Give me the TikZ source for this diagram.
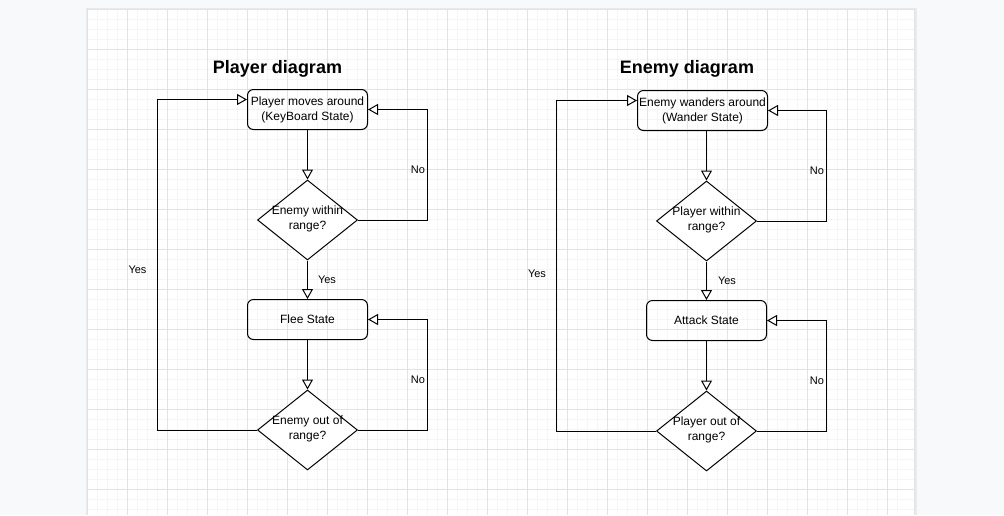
\documentclass[tikz,border=0pt]{standalone}
\usepackage{fontspec}
\setmainfont{Liberation Sans}
\usetikzlibrary{arrows.meta,shapes.geometric}
\definecolor{outbg}{HTML}{F8F9FA}
\definecolor{minorgrid}{HTML}{F5F5F5}
\definecolor{majorgrid}{HTML}{E3E3E3}
\definecolor{pageshadow}{HTML}{E9EAEB}
\tikzset{
  stbox/.style={draw, rounded corners=6pt, minimum width=120pt, minimum height=40pt, inner sep=0pt, align=center, font=\fontsize{12}{15}\selectfont, line width=1pt},
  dec/.style={diamond, draw, minimum width=100pt, minimum height=80pt, inner sep=0pt, line width=1pt, fill=white},
  dtext/.style={align=center, font=\fontsize{12}{15}\selectfont, yshift=1pt},
  arr/.style={-{Triangle[open,length=10pt,width=11pt,fill=white]}, line width=1pt},
  lbl/.style={font=\fontsize{11}{13}\selectfont, inner sep=1pt},
  ttl/.style={font=\bfseries\fontsize{18}{22}\selectfont}
}
\begin{document}
\begin{tikzpicture}[x=1pt,y=-1pt]
\useasboundingbox (0,0) rectangle (1004,515);
\fill[outbg] (0,0) rectangle (1004,515);
\fill[pageshadow] (86,8) rectangle (916.5,515);
\fill[white] (87,9) rectangle (915,515);
\foreach \x in {97.5,107.5,...,905} \draw[minorgrid, line width=1pt] (\x,9) -- (\x,515);
\foreach \y in {19.5,29.5,...,515} \draw[minorgrid, line width=1pt] (87,\y) -- (915,\y);
\foreach \x in {127.5,167.5,...,900} \draw[majorgrid, line width=1pt] (\x,9) -- (\x,515);
\foreach \y in {49.5,89.5,...,515} \draw[majorgrid, line width=1pt] (87,\y) -- (915,\y);
\draw[majorgrid, line width=1pt] (87.5,515) -- (87.5,9.5) -- (914.5,9.5) -- (914.5,515);

% ---------- Player diagram ----------
\node[ttl] (pt) at (277.5,69) {Player diagram};
\node[stbox] (p1) at (307.5,109.5) {Player moves around\\(KeyBoard State)};
\node[dec, label={[dtext]center:Enemy within\\range?}] (p2) at (307.5,220) {};
\node[stbox] (p3) at (307.5,319.5) {Flee State};
\node[dec, label={[dtext]center:Enemy out of\\range?}] (p4) at (307.5,430) {};
\coordinate (pnr) at (427.5,0);
\coordinate (pyl) at (157.5,0);
\coordinate (p1in) at ([yshift=10pt]p1.west);

\draw[arr] (p1.south) -- (p2.north);
\draw[arr] (p2.east) -- (p2.east -| pnr) -- (p1.east -| pnr) -- (p1.east);
\draw[arr] (p2.south) -- (p3.north);
\draw[arr] (p3.south) -- (p4.north);
\draw[arr] (p4.east) -- (p4.east -| pnr) -- (p3.east -| pnr) -- (p3.east);
\draw[arr] (p4.west) -- (p4.west -| pyl) -- (pyl |- p1in) -- (p1in);
\node[lbl] (pno1) at (418,169.5) {No};
\node[lbl] (pyes1) at (327,279.5) {Yes};
\node[lbl] (pno2) at (418,379.5) {No};
\node[lbl] (pyes2) at (137.5,269.5) {Yes};

% ---------- Enemy diagram ----------
\node[ttl] (et) at (687,69) {Enemy diagram};
\node[stbox, minimum width=130pt] (e1) at (702.5,110.5) {Enemy wanders around\\(Wander State)};
\node[dec, label={[dtext]center:Player within\\range?}] (e2) at (706.5,221) {};
\node[stbox] (e3) at (706.5,320.5) {Attack State};
\node[dec, label={[dtext]center:Player out of\\range?}] (e4) at (706.5,431) {};
\coordinate (enr) at (826.5,0);
\coordinate (eyl) at (556.5,0);
\coordinate (e1in) at ([yshift=10pt]e1.west);

\draw[arr] (e2.north |- e1.south) -- (e2.north);
\draw[arr] (e2.east) -- (e2.east -| enr) -- (e1.east -| enr) -- (e1.east);
\draw[arr] (e2.south) -- (e3.north);
\draw[arr] (e3.south) -- (e4.north);
\draw[arr] (e4.east) -- (e4.east -| enr) -- (e3.east -| enr) -- (e3.east);
\draw[arr] (e4.west) -- (e4.west -| eyl) -- (eyl |- e1in) -- (e1in);
\node[lbl] (eno1) at (817,170.5) {No};
\node[lbl] (eyes1) at (727,280.5) {Yes};
\node[lbl] (eno2) at (817,380.5) {No};
\node[lbl] (eyes2) at (537,273.5) {Yes};
\end{tikzpicture}
\end{document}
